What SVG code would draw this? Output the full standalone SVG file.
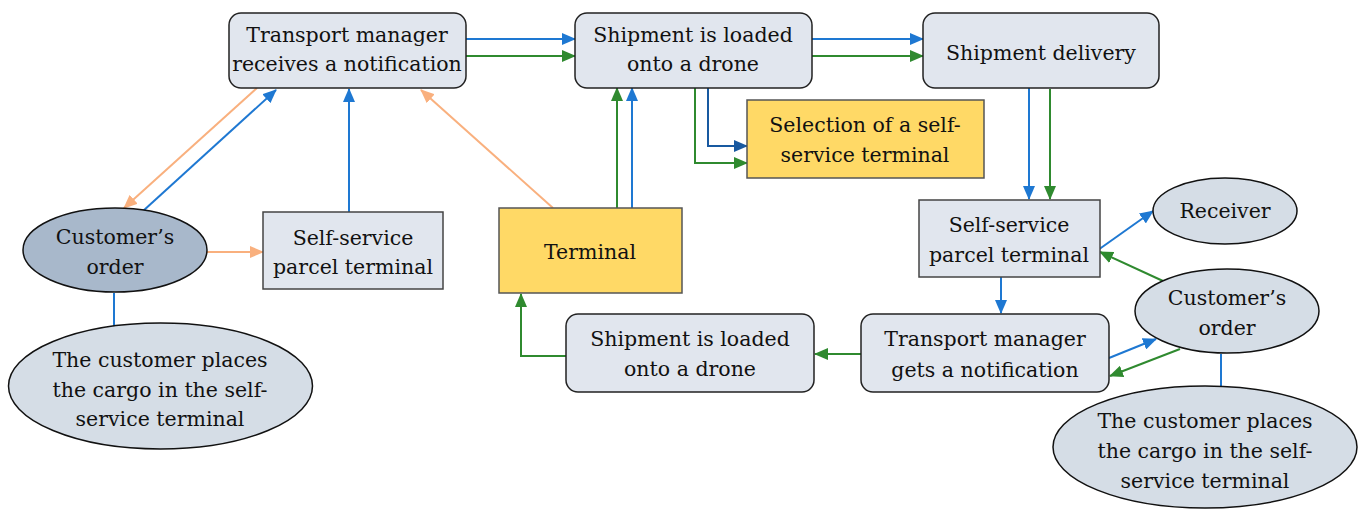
<svg xmlns="http://www.w3.org/2000/svg" width="1363" height="509" viewBox="0 0 1363 509">
<style>
.n{fill:#E1E6EE;stroke:#222;stroke-width:1.5}
.r{fill:#E1E6EE;stroke:#444;stroke-width:1.5}
.e{fill:#D5DDE6;stroke:#111;stroke-width:1.5}
.ed{fill:#A8B8CB;stroke:#111;stroke-width:1.5}
.y{fill:#FFD966;stroke:#555;stroke-width:1.5}
text{font-family:"DejaVu Serif","Liberation Serif",serif;font-size:20.5px;fill:#111;text-anchor:middle}
.c{fill:none;stroke-width:2}
.b{stroke:#1E78D2}
.db{stroke:#1859A0}
.g{stroke:#2F8A2F}
.o{stroke:#F9B07E}
</style>
<defs>
<marker id="mb" markerUnits="userSpaceOnUse" markerWidth="14" markerHeight="12" refX="13" refY="6" orient="auto"><path d="M0,0 L14,6 L0,12 Z" fill="#1E78D2"/></marker>
<marker id="mdb" markerUnits="userSpaceOnUse" markerWidth="14" markerHeight="12" refX="13" refY="6" orient="auto"><path d="M0,0 L14,6 L0,12 Z" fill="#1859A0"/></marker>
<marker id="mg" markerUnits="userSpaceOnUse" markerWidth="14" markerHeight="12" refX="13" refY="6" orient="auto"><path d="M0,0 L14,6 L0,12 Z" fill="#2F8A2F"/></marker>
<marker id="mo" markerUnits="userSpaceOnUse" markerWidth="14" markerHeight="12" refX="13" refY="6" orient="auto"><path d="M0,0 L14,6 L0,12 Z" fill="#F9B07E"/></marker>
</defs>
<g id="connectors">
<line class="c b" x1="466" y1="39" x2="575" y2="39" marker-end="url(#mb)"/>
<line class="c g" x1="466" y1="56" x2="575" y2="56" marker-end="url(#mg)"/>
<line class="c b" x1="812" y1="39" x2="923" y2="39" marker-end="url(#mb)"/>
<line class="c g" x1="812" y1="56" x2="923" y2="56" marker-end="url(#mg)"/>
<polyline class="c db" points="708,87 708,146 747,146" marker-end="url(#mdb)"/>
<polyline class="c g" points="695,87 695,163 747,163" marker-end="url(#mg)"/>
<line class="c g" x1="617" y1="208" x2="617" y2="88" marker-end="url(#mg)"/>
<line class="c b" x1="632" y1="208" x2="632" y2="88" marker-end="url(#mb)"/>
<line class="c o" x1="553" y1="208" x2="421" y2="90" marker-end="url(#mo)"/>
<line class="c o" x1="257" y1="88" x2="124" y2="208" marker-end="url(#mo)"/>
<line class="c b" x1="143" y1="211" x2="276" y2="90" marker-end="url(#mb)"/>
<line class="c b" x1="349" y1="212" x2="349" y2="89" marker-end="url(#mb)"/>
<line class="c o" x1="207" y1="252" x2="263" y2="252" marker-end="url(#mo)"/>
<line class="c b" x1="114" y1="293" x2="114" y2="330"/>
<line class="c b" x1="1029" y1="87" x2="1029" y2="199" marker-end="url(#mb)"/>
<line class="c g" x1="1050" y1="89" x2="1050" y2="199" marker-end="url(#mg)"/>
<line class="c b" x1="1098" y1="250" x2="1153" y2="211" marker-end="url(#mb)"/>
<line class="c g" x1="1163" y1="281" x2="1100" y2="252" marker-end="url(#mg)"/>
<line class="c b" x1="1001" y1="277" x2="1001" y2="313" marker-end="url(#mb)"/>
<line class="c b" x1="1109" y1="358" x2="1156" y2="339" marker-end="url(#mb)"/>
<line class="c g" x1="1180" y1="349" x2="1110" y2="376" marker-end="url(#mg)"/>
<line class="c b" x1="1221" y1="354" x2="1221" y2="387"/>
<line class="c g" x1="861" y1="354" x2="815" y2="354" marker-end="url(#mg)"/>
<polyline class="c g" points="566,356 521,356 521,294" marker-end="url(#mg)"/>
</g>
<g id="n1"><rect class="n" x="229" y="13" width="237" height="75" rx="12"/><text x="347" y="42">Transport manager</text><text x="347" y="71">receives a notification</text></g>
<g id="n2"><rect class="n" x="575" y="13" width="237" height="75" rx="12"/><text x="693" y="42">Shipment is loaded</text><text x="693" y="71">onto a drone</text></g>
<g id="n3"><rect class="n" x="923" y="13" width="236" height="75" rx="12"/><text x="1041" y="60">Shipment delivery</text></g>
<g id="n4"><rect class="y" x="747" y="100" width="237" height="78"/><text x="865" y="132">Selection of a self-</text><text x="865" y="162">service terminal</text></g>
<g id="n5"><rect class="y" x="499" y="208" width="183" height="85"/><text x="590" y="259">Terminal</text></g>
<g id="n6"><rect class="r" x="263" y="212" width="180" height="77"/><text x="353" y="245">Self-service</text><text x="353" y="274">parcel terminal</text></g>
<g id="n7"><ellipse class="ed" cx="115" cy="250" rx="92" ry="42"/><text x="115" y="244">Customer’s</text><text x="115" y="274">order</text></g>
<g id="n8"><ellipse class="e" cx="160.5" cy="386" rx="152" ry="63"/><text x="160" y="367">The customer places</text><text x="160" y="397">the cargo in the self-</text><text x="160" y="426">service terminal</text></g>
<g id="n9"><rect class="r" x="919" y="200" width="181" height="77"/><text x="1009" y="232">Self-service</text><text x="1009" y="262">parcel terminal</text></g>
<g id="n10"><ellipse class="e" cx="1225" cy="211" rx="72" ry="33"/><text x="1225" y="218">Receiver</text></g>
<g id="n11"><ellipse class="e" cx="1227" cy="311" rx="92" ry="42"/><text x="1227" y="305">Customer’s</text><text x="1227" y="335">order</text></g>
<g id="n12"><rect class="n" x="861" y="314" width="248" height="78" rx="12"/><text x="985" y="346">Transport manager</text><text x="985" y="377">gets a notification</text></g>
<g id="n13"><rect class="n" x="566" y="314" width="248" height="78" rx="12"/><text x="690" y="346">Shipment is loaded</text><text x="690" y="376">onto a drone</text></g>
<g id="n14"><ellipse class="e" cx="1205" cy="447" rx="152" ry="61"/><text x="1205" y="428">The customer places</text><text x="1205" y="458">the cargo in the self-</text><text x="1205" y="488">service terminal</text></g>
</svg>
